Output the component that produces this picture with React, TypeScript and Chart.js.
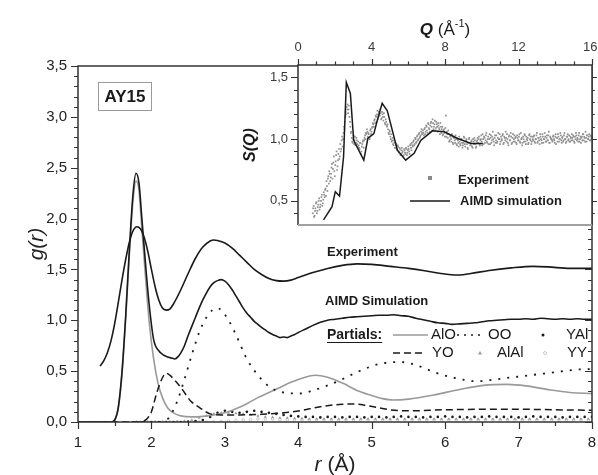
import React, { useEffect, useRef } from 'react';
import { Chart, registerables } from 'chart.js';

Chart.register(...registerables);

const FONT = "'Liberation Sans', Arial, Helvetica, sans-serif";
const INK = '#1a1a1a';
const AXIS = '#333333';

// ---------------- main panel g(r) ----------------
const xTickValues = [1, 2, 3, 4, 5, 6, 7, 8];
const xTickLabels = ['1', '2', '3', '4', '5', '6', '7', '8'];
const yTickValues = [0, 0.5, 1, 1.5, 2, 2.5, 3, 3.5];
const yTickLabels = ['0,0', '0,5', '1,0', '1,5', '2,0', '2,5', '3,0', '3,5'];

// [r, g(r)]
const gExperiment: [number, number][] = [
  [1.30, 0.55], [1.35, 0.60], [1.40, 0.68], [1.45, 0.80], [1.50, 0.97], [1.55, 1.18], [1.60, 1.40],
  [1.65, 1.60], [1.70, 1.77], [1.75, 1.88], [1.80, 1.92], [1.85, 1.90], [1.90, 1.82], [1.95, 1.68],
  [2.00, 1.50], [2.05, 1.33], [2.10, 1.20], [2.15, 1.12], [2.20, 1.10], [2.25, 1.11], [2.30, 1.16],
  [2.40, 1.30], [2.50, 1.46], [2.60, 1.61], [2.70, 1.72], [2.80, 1.78], [2.85, 1.79], [2.90, 1.785],
  [3.00, 1.76], [3.10, 1.71], [3.20, 1.64], [3.30, 1.57], [3.40, 1.50], [3.50, 1.45], [3.60, 1.41],
  [3.70, 1.39], [3.80, 1.385], [3.90, 1.395], [4.00, 1.42], [4.20, 1.47], [4.40, 1.51], [4.60, 1.54],
  [4.80, 1.555], [5.00, 1.55], [5.25, 1.53], [5.50, 1.51], [5.70, 1.49], [5.90, 1.465], [6.05, 1.45],
  [6.20, 1.445], [6.35, 1.46], [6.60, 1.49], [6.90, 1.515], [7.20, 1.53], [7.40, 1.525], [7.70, 1.51],
  [8.00, 1.51],
];

const gAIMD: [number, number][] = [
  [1.00, 0], [1.45, 0], [1.50, 0.02], [1.55, 0.15], [1.60, 0.50], [1.65, 1.05], [1.70, 1.70], [1.75, 2.25],
  [1.79, 2.445], [1.83, 2.35], [1.87, 2.00], [1.92, 1.55], [1.97, 1.15], [2.03, 0.81], [2.10, 0.70],
  [2.16, 0.66], [2.22, 0.64], [2.27, 0.63], [2.32, 0.62], [2.36, 0.64], [2.40, 0.68], [2.45, 0.75],
  [2.50, 0.85], [2.55, 0.94], [2.60, 1.03], [2.65, 1.12], [2.70, 1.20], [2.75, 1.27], [2.80, 1.33],
  [2.85, 1.37], [2.90, 1.39], [2.95, 1.40], [3.00, 1.385], [3.05, 1.35], [3.10, 1.30], [3.15, 1.24],
  [3.20, 1.18], [3.25, 1.12], [3.30, 1.07], [3.35, 1.03], [3.40, 0.99], [3.45, 0.96], [3.50, 0.93],
  [3.55, 0.905], [3.60, 0.88], [3.65, 0.86], [3.70, 0.845], [3.75, 0.83], [3.80, 0.835], [3.85, 0.83],
  [3.90, 0.845], [3.95, 0.86], [4.00, 0.88], [4.10, 0.915], [4.20, 0.95], [4.30, 0.98], [4.40, 1.00],
  [4.50, 1.01], [4.60, 1.02], [4.70, 1.03], [4.80, 1.035], [4.90, 1.04], [5.00, 1.045], [5.10, 1.05],
  [5.20, 1.05], [5.30, 1.055], [5.40, 1.045], [5.50, 1.04], [5.60, 1.02], [5.70, 1.005], [5.80, 0.99],
  [5.90, 0.975], [6.00, 0.97], [6.10, 0.96], [6.20, 0.965], [6.30, 0.97], [6.40, 0.975], [6.50, 0.985],
  [6.60, 0.995], [6.70, 1.00], [6.80, 1.005], [6.90, 1.01], [7.00, 1.01], [7.10, 1.015], [7.20, 1.01],
  [7.30, 1.02], [7.40, 1.015], [7.50, 1.01], [7.60, 1.015], [7.70, 1.01], [7.80, 1.015], [7.90, 1.01],
  [8.00, 1.01],
];

const gAlO: [number, number][] = [
  [1.00, 0], [1.45, 0], [1.50, 0.02], [1.55, 0.14], [1.60, 0.48], [1.65, 1.02], [1.70, 1.65], [1.75, 2.18],
  [1.79, 2.37], [1.83, 2.28], [1.87, 1.90], [1.92, 1.42], [1.97, 0.98], [2.03, 0.62], [2.09, 0.38],
  [2.15, 0.24], [2.22, 0.14], [2.30, 0.09], [2.40, 0.06], [2.55, 0.05], [2.70, 0.055], [2.85, 0.07],
  [3.00, 0.09], [3.15, 0.13], [3.30, 0.18], [3.45, 0.24], [3.60, 0.29], [3.75, 0.34], [3.90, 0.39],
  [4.05, 0.43], [4.23, 0.46], [4.40, 0.44], [4.61, 0.38], [4.80, 0.31], [4.98, 0.265], [5.15, 0.23],
  [5.29, 0.216], [5.50, 0.225], [5.84, 0.265], [6.20, 0.32], [6.52, 0.36], [6.85, 0.37], [7.10, 0.355],
  [7.43, 0.315], [7.70, 0.29], [8.00, 0.28],
];

const gOO: [number, number][] = [
  [1.00, 0], [2.10, 0], [2.20, 0.02], [2.25, 0.05], [2.30, 0.12], [2.36, 0.22], [2.45, 0.42], [2.55, 0.66],
  [2.65, 0.88], [2.75, 1.03], [2.83, 1.10], [2.89, 1.12], [2.95, 1.10], [3.05, 1.00], [3.15, 0.86],
  [3.30, 0.62], [3.45, 0.46], [3.62, 0.34], [3.80, 0.29], [4.02, 0.28], [4.20, 0.31], [4.40, 0.36],
  [4.57, 0.41], [4.80, 0.49], [5.10, 0.57], [5.39, 0.59], [5.60, 0.56], [5.89, 0.48], [6.15, 0.43],
  [6.43, 0.40], [6.70, 0.42], [6.98, 0.445], [7.40, 0.48], [7.93, 0.52], [8.00, 0.52],
];

const gYO: [number, number][] = [
  [1.00, 0], [1.85, 0], [1.90, 0.01], [1.95, 0.04], [2.00, 0.10], [2.07, 0.28], [2.14, 0.42], [2.20, 0.48],
  [2.25, 0.46], [2.33, 0.40], [2.41, 0.33], [2.53, 0.21], [2.66, 0.14], [2.80, 0.08], [2.95, 0.07],
  [3.20, 0.07], [3.50, 0.075], [3.80, 0.09], [4.02, 0.11], [4.30, 0.15], [4.60, 0.175], [4.75, 0.178],
  [4.95, 0.16], [5.25, 0.12], [5.50, 0.11], [6.00, 0.12], [6.50, 0.125], [7.00, 0.125], [7.50, 0.12],
  [8.00, 0.115],
];

// point partials on a regular r grid
const yalStart = 1.8, yalStep = 0.1;
const gYAl = [
  0, 0, 0, 0, 0, 0, 0, 0.005, 0.01, 0.02,
  0.05, 0.09, 0.11, 0.10, 0.09, 0.10, 0.11, 0.10, 0.09, 0.08,
  0.07, 0.06, 0.055, 0.05, 0.05, 0.045, 0.05, 0.05, 0.045, 0.05,
  0.05, 0.045, 0.05, 0.05, 0.045, 0.05, 0.055, 0.05, 0.05, 0.045,
  0.05, 0.05, 0.055, 0.05, 0.05, 0.045, 0.05, 0.05, 0.055, 0.05,
  0.05, 0.05, 0.045, 0.05, 0.055, 0.05, 0.05, 0.05, 0.045, 0.05,
  0.05, 0.05, 0.05,
];
const alalStart = 1.85, alalStep = 0.1;
const gAlAl = [
  0, 0, 0, 0, 0, 0.005, 0.01, 0.02, 0.04, 0.06,
  0.08, 0.09, 0.09, 0.085, 0.08, 0.07, 0.06, 0.05, 0.045, 0.04,
  0.04, 0.035, 0.035, 0.03, 0.03, 0.03, 0.03, 0.03, 0.03, 0.03,
  0.03, 0.03, 0.03, 0.03, 0.03, 0.03, 0.03, 0.03, 0.03, 0.03,
  0.03, 0.03, 0.03, 0.03, 0.03, 0.03, 0.03, 0.03, 0.03, 0.03,
  0.03, 0.03, 0.03, 0.03, 0.03, 0.03, 0.03, 0.03, 0.03, 0.03,
  0.03, 0.03,
];
const yyStart = 1.95, yyStep = 0.1;
const gYY = [
  0, 0, 0, 0, 0, 0, 0, 0, 0, 0,
  0.005, 0.01, 0.015, 0.02, 0.025, 0.03, 0.03, 0.03, 0.025, 0.02,
  0.02, 0.02, 0.02, 0.02, 0.02, 0.02, 0.02, 0.02, 0.02, 0.02,
  0.02, 0.02, 0.02, 0.02, 0.02, 0.02, 0.02, 0.02, 0.02, 0.02,
  0.02, 0.02, 0.02, 0.02, 0.02, 0.02, 0.02, 0.02, 0.02, 0.02,
  0.02, 0.02, 0.02, 0.02, 0.02, 0.02, 0.02, 0.02, 0.02, 0.02,
  0.02,
];

// ---------------- inset S(Q) ----------------
const qTickValues = [0, 4, 8, 12, 16];
const qTickLabels = ['0', '4', '8', '12', '16'];
const sTickValues = [0.5, 1.0, 1.5];
const sTickLabels = ['0,5', '1,0', '1,5'];

// experimental S(Q), two interleaved sweeps of the measured points
const sqExpStartA = 0.8, sqExpStepA = 0.05;
const sqExperimentA = [
  0.40, 0.46, 0.38, 0.44, 0.49, 0.42, 0.47, 0.52, 0.45, 0.50, 0.55, 0.48, 0.57, 0.53, 0.60, 0.66, 0.58, 0.70, 0.74, 0.66,
  0.72, 0.80, 0.76, 0.86, 0.70, 0.82, 0.90, 0.78, 0.88, 0.84, 0.96, 0.92, 1.02, 1.00, 1.10, 1.14, 1.22, 1.26, 1.28, 1.24,
  1.18, 1.10, 1.06, 0.98, 1.00, 0.96, 1.02, 0.97, 0.99, 0.94, 0.95, 0.92, 0.97, 0.90, 0.96, 0.99, 0.99, 1.03, 1.05, 1.08,
  1.02, 1.04, 1.00, 1.08, 1.06, 1.10, 1.12, 1.15, 1.13, 1.18, 1.20, 1.16, 1.22, 1.19, 1.21, 1.17, 1.20, 1.15, 1.18, 1.12,
  1.14, 1.10, 1.08, 1.04, 1.06, 1.00, 0.98, 1.01, 0.95, 0.97, 0.93, 0.96, 0.91, 0.94, 0.89, 0.92, 0.88, 0.93, 0.90, 0.87,
  0.91, 0.88, 0.92, 0.89, 0.94, 0.90, 0.95, 0.93, 0.97, 0.94, 0.99, 0.96, 1.00, 0.98, 1.03, 1.00, 1.05, 1.02, 1.06, 1.04,
  1.07, 1.03, 1.09, 1.06, 1.10, 1.05, 1.12, 1.08, 1.11, 1.14, 1.07, 1.13, 1.10, 1.15, 1.09, 1.12, 1.06, 1.11, 1.08, 1.13,
  1.05, 1.10, 1.04, 1.08, 1.02, 1.19, 1.06, 1.01, 1.04, 0.99, 1.03, 0.98, 1.02, 0.96, 1.01, 0.97, 1.00, 0.95, 0.99, 0.94,
  0.98, 0.95, 1.00, 0.93, 0.97, 1.01, 0.94, 0.99, 0.96, 0.92, 1.00, 0.97, 0.95, 0.99, 0.93, 0.98, 1.01, 0.96, 0.94, 0.99,
  0.97, 1.02, 0.95, 1.00, 0.98, 1.04, 0.96, 1.01, 0.99, 1.05, 0.97, 1.02, 1.00, 0.96, 1.03, 0.99, 1.06, 0.98, 1.01, 0.97,
  1.03, 0.98, 1.05, 1.00, 0.96, 1.02, 0.99, 1.04, 0.97, 1.01, 1.06, 0.98, 1.00, 0.95, 1.03, 0.99, 1.02, 0.97, 1.04, 1.00,
  0.98, 1.02, 0.96, 1.01, 0.99, 1.04, 0.97, 1.00, 0.95, 1.02, 0.98, 1.03, 0.96, 1.00, 1.01, 0.97, 1.04, 0.99, 0.96, 1.02,
  0.99, 1.03, 0.97, 1.00, 1.05, 0.98, 1.01, 0.96, 1.02, 0.99, 1.04, 0.97, 1.00, 1.02, 0.98, 1.03, 0.99, 1.06, 0.97, 1.01,
  1.00, 0.98, 1.03, 0.99, 1.02, 0.96, 1.01, 1.04, 0.98, 1.00, 1.03, 0.97, 1.02, 0.99, 1.05, 1.00, 0.98, 1.02, 0.99, 1.03,
  0.98, 1.01, 1.04, 0.99, 1.02, 0.97, 1.00, 1.03, 1.01, 0.98, 1.05, 1.00, 0.97, 1.02, 1.04, 0.99, 1.01, 1.06, 0.98, 1.03,
  1.00, 1.04, 0.99, 1.02, 1.01,
];
const sqExpStartB = 0.825, sqExpStepB = 0.05;
const sqExperimentB = [
  0.44, 0.37, 0.42, 0.48, 0.40, 0.45, 0.50, 0.43, 0.47, 0.53, 0.46, 0.51, 0.55, 0.59, 0.54, 0.62, 0.68, 0.64, 0.72, 0.69,
  0.77, 0.68, 0.81, 0.74, 0.79, 0.87, 0.75, 0.83, 0.92, 0.86, 0.90, 0.99, 0.94, 1.05, 1.08, 1.18, 1.20, 1.24, 1.21, 1.27,
  1.14, 1.05, 1.01, 0.97, 1.03, 0.99, 0.95, 1.01, 0.96, 0.98, 0.93, 0.97, 0.88, 0.94, 0.98, 0.93, 1.01, 1.00, 1.04, 1.06,
  1.05, 1.01, 1.07, 1.04, 1.09, 1.13, 1.10, 1.16, 1.19, 1.14, 1.23, 1.18, 1.20, 1.24, 1.16, 1.22, 1.18, 1.21, 1.13, 1.16,
  1.11, 1.12, 1.05, 1.07, 1.02, 1.04, 0.99, 0.96, 0.99, 0.93, 0.95, 0.92, 0.95, 0.90, 0.93, 0.87, 0.91, 0.89, 0.86, 0.92,
  0.89, 0.93, 0.87, 0.91, 0.92, 0.88, 0.96, 0.91, 0.95, 0.98, 0.95, 1.01, 0.97, 1.02, 0.99, 1.04, 1.01, 1.03, 1.08, 1.05,
  1.05, 1.08, 1.04, 1.11, 1.07, 1.13, 1.09, 1.06, 1.13, 1.10, 1.16, 1.08, 1.12, 1.07, 1.14, 1.10, 1.13, 1.09, 1.04, 1.10,
  1.08, 1.03, 1.07, 1.05, 1.09, 1.02, 1.04, 1.07, 0.98, 1.02, 1.00, 1.04, 0.97, 1.01, 0.99, 1.03, 0.96, 1.00, 0.97, 1.02,
  0.96, 1.00, 0.97, 0.95, 1.02, 0.96, 0.98, 1.00, 0.93, 0.97, 1.01, 0.95, 0.98, 0.94, 1.00, 0.96, 0.99, 0.93, 0.98, 1.01,
  1.00, 0.96, 0.99, 1.03, 0.95, 1.00, 1.02, 0.97, 1.03, 0.98, 1.00, 0.96, 1.04, 1.01, 0.97, 1.02, 1.00, 0.95, 1.03, 0.99,
  0.97, 1.01, 1.00, 1.04, 0.98, 1.00, 1.03, 0.96, 1.02, 0.99, 1.01, 1.04, 0.97, 1.02, 0.99, 1.05, 0.96, 1.01, 0.98, 1.03,
  1.01, 0.97, 1.03, 0.99, 1.02, 0.98, 1.05, 1.01, 0.97, 1.00, 1.04, 0.98, 1.02, 0.99, 0.96, 1.03, 1.00, 1.02, 0.98, 1.00,
  1.02, 0.98, 1.00, 1.03, 0.97, 1.01, 0.99, 1.04, 1.00, 0.97, 1.02, 1.00, 1.05, 0.98, 1.01, 0.99, 1.03, 0.97, 1.02, 1.00,
  0.99, 1.02, 1.00, 0.97, 1.04, 1.01, 0.98, 1.02, 1.00, 1.05, 0.99, 1.01, 0.98, 1.03, 1.00, 0.97, 1.02, 1.04, 1.00, 0.98,
  1.02, 0.99, 1.01, 1.03, 0.98, 1.02, 1.05, 0.99, 1.00, 1.03, 0.98, 1.02, 1.01, 0.99, 1.04, 1.02, 0.98, 1.01, 1.03, 1.00,
  1.02, 0.99, 1.03, 1.00,
];

const sqAIMD: [number, number][] = [
  [1.39, 0.347], [1.85, 0.454], [2.03, 0.575], [2.26, 0.54], [2.48, 0.857], [2.63, 1.46], [2.85, 1.37],
  [3.03, 0.99], [3.58, 0.83], [3.80, 1.005], [4.13, 1.045], [4.31, 1.15], [4.58, 1.29], [4.86, 1.23],
  [5.41, 0.91], [5.86, 0.83], [6.32, 0.885], [6.68, 0.99], [7.32, 1.067], [7.96, 1.06], [8.69, 1.005],
  [9.42, 0.965], [10.06, 0.965],
];

// ---------------- layout ----------------
const W = 598, H = 475;
const INSET_LEFT = 240, INSET_W = 358, INSET_H = 230;

const pairs = (a: [number, number][]) => a.map(([x, y]) => ({ x, y }));
const grid = (start: number, step: number, vals: number[]) =>
  vals.map((y, i) => ({ x: +(start + i * step).toFixed(3), y }));

function drawParts(ctx: CanvasRenderingContext2D, parts: { t: string; f: string; dy?: number }[], cx: number, y: number) {
  let total = 0;
  parts.forEach(p => { ctx.font = p.f; total += ctx.measureText(p.t).width; });
  let x = cx - total / 2;
  ctx.textAlign = 'left';
  ctx.textBaseline = 'alphabetic';
  parts.forEach(p => {
    ctx.font = p.f;
    ctx.fillText(p.t, x, y + (p.dy || 0));
    x += ctx.measureText(p.t).width;
  });
}

const mainDecor = {
  id: 'mainDecor',
  afterDatasetsDraw(chart: any) {
    const { ctx, chartArea: ca, scales } = chart;
    const xs = scales.x, ys = scales.y;
    ctx.save();
    ctx.strokeStyle = AXIS;
    ctx.lineWidth = 1.5;
    ctx.strokeRect(ca.left, ca.top, ca.right - ca.left, ca.bottom - ca.top);
    ctx.lineWidth = 1.2;
    ctx.beginPath();
    for (let k = 0; k <= 14; k++) {
      const px = Math.round(xs.getPixelForValue(1 + k * 0.5)) + 0.5;
      const len = k % 2 === 0 ? 7 : 4;
      ctx.moveTo(px, ca.bottom);
      ctx.lineTo(px, ca.bottom + len);
    }
    for (let k = 0; k <= 35; k++) {
      const py = Math.round(ys.getPixelForValue(k * 0.1)) + 0.5;
      const len = k % 5 === 0 ? 7 : 4;
      ctx.moveTo(ca.left, py);
      ctx.lineTo(ca.left - len, py);
      ctx.moveTo(ca.right, py);
      ctx.lineTo(ca.right - len, py);
    }
    ctx.stroke();
    ctx.fillStyle = '#222';
    ctx.font = `15px ${FONT}`;
    ctx.textAlign = 'center';
    ctx.textBaseline = 'middle';
    xTickValues.forEach((v, i) => ctx.fillText(xTickLabels[i], xs.getPixelForValue(v), ca.bottom + 21));
    ctx.textAlign = 'right';
    yTickValues.forEach((v, i) => ctx.fillText(yTickLabels[i], ca.left - 11, ys.getPixelForValue(v)));
    ctx.save();
    ctx.translate(37, (ca.top + ca.bottom) / 2);
    ctx.rotate(-Math.PI / 2);
    ctx.font = `italic 21px ${FONT}`;
    ctx.textAlign = 'center';
    ctx.textBaseline = 'middle';
    ctx.fillText('g(r)', 0, 0);
    ctx.restore();
    drawParts(ctx, [
      { t: 'r', f: `italic 21px ${FONT}` },
      { t: ' (Å)', f: `21px ${FONT}` },
    ], (ca.left + ca.right) / 2, 471);

    ctx.strokeStyle = '#9a9a9a';
    ctx.lineWidth = 1;
    ctx.strokeRect(98.5, 82.5, 53, 28);
    ctx.fillStyle = INK;
    ctx.font = `bold 17px ${FONT}`;
    ctx.textAlign = 'center';
    ctx.textBaseline = 'middle';
    ctx.fillText('AY15', 125, 97);

    ctx.font = `bold 13px ${FONT}`;
    ctx.textAlign = 'left';
    ctx.fillText('Experiment', 327, 252);
    ctx.fillText('AIMD Simulation', 325, 301);

    const r1 = 335, r2 = 353;
    ctx.font = `bold 14px ${FONT}`;
    ctx.fillText('Partials:', 327, r1);
    const pw = ctx.measureText('Partials:').width;
    ctx.strokeStyle = INK;
    ctx.lineWidth = 1.2;
    ctx.beginPath();
    ctx.moveTo(327, r1 + 7.5);
    ctx.lineTo(327 + pw, r1 + 7.5);
    ctx.stroke();

    ctx.font = `15px ${FONT}`;
    ctx.fillText('AlO', 431, r1);
    ctx.fillText('OO', 488, r1);
    ctx.fillText('YAl', 566, r1);
    ctx.fillText('YO', 432, r2);
    ctx.fillText('AlAl', 497, r2);
    ctx.fillText('YY', 567, r2);

    ctx.strokeStyle = '#9a9a9a';
    ctx.lineWidth = 1.5;
    ctx.beginPath(); ctx.moveTo(393, r1); ctx.lineTo(428, r1); ctx.stroke();
    ctx.strokeStyle = INK;
    ctx.setLineDash([2, 5]);
    ctx.beginPath(); ctx.moveTo(457, r1); ctx.lineTo(485, r1); ctx.stroke();
    ctx.setLineDash([7, 4]);
    ctx.beginPath(); ctx.moveTo(393, r2); ctx.lineTo(425, r2); ctx.stroke();
    ctx.setLineDash([]);
    ctx.fillStyle = INK;
    ctx.beginPath(); ctx.arc(543, r1, 1.5, 0, Math.PI * 2); ctx.fill();
    ctx.fillStyle = '#999';
    ctx.beginPath(); ctx.moveTo(480, r2 - 2); ctx.lineTo(482, r2 + 1.5); ctx.lineTo(478, r2 + 1.5); ctx.closePath(); ctx.fill();
    ctx.strokeStyle = '#bbb';
    ctx.lineWidth = 0.8;
    ctx.beginPath(); ctx.arc(545, r2, 1.5, 0, Math.PI * 2); ctx.stroke();
    ctx.restore();
  },
};

const insetDecor = {
  id: 'insetDecor',
  beforeDatasetsDraw(chart: any) {
    const { ctx, chartArea: ca } = chart;
    ctx.save();
    ctx.fillStyle = '#ffffff';
    ctx.fillRect(ca.left, ca.top, ca.right - ca.left, ca.bottom - ca.top);
    ctx.restore();
  },
  afterDatasetsDraw(chart: any) {
    const { ctx, chartArea: ca, scales, width } = chart;
    const xs = scales.x, ys = scales.y;
    ctx.save();
    ctx.strokeStyle = AXIS;
    ctx.lineWidth = 1.5;
    ctx.beginPath();
    ctx.moveTo(ca.left, ca.bottom);
    ctx.lineTo(ca.left, ca.top);
    ctx.lineTo(ca.right, ca.top);
    ctx.lineTo(ca.right, ca.bottom);
    ctx.stroke();
    ctx.strokeStyle = '#a0a0a0';
    ctx.lineWidth = 2;
    ctx.beginPath();
    ctx.moveTo(ca.left, ca.bottom);
    ctx.lineTo(ca.right, ca.bottom);
    ctx.stroke();
    ctx.strokeStyle = AXIS;
    ctx.lineWidth = 1.2;
    ctx.beginPath();
    for (let k = 0; k <= 16; k++) {
      const px = Math.round(xs.getPixelForValue(k)) + 0.5;
      const len = k % 4 === 0 ? 6 : 3.5;
      ctx.moveTo(px, ca.top);
      ctx.lineTo(px, ca.top - len);
    }
    for (let k = 4; k <= 15; k++) {
      const py = Math.round(ys.getPixelForValue(k * 0.1)) + 0.5;
      const len = k % 5 === 0 ? 7 : 4;
      ctx.moveTo(ca.left, py);
      ctx.lineTo(ca.left - len, py);
      ctx.moveTo(ca.right, py);
      ctx.lineTo(ca.right + len * 0.7, py);
    }
    ctx.stroke();
    ctx.fillStyle = '#3a3a3a';
    ctx.font = `13px ${FONT}`;
    ctx.textAlign = 'center';
    ctx.textBaseline = 'middle';
    qTickValues.forEach((v, i) => {
      const w = ctx.measureText(qTickLabels[i]).width;
      const cx = Math.min(xs.getPixelForValue(v), width - w / 2 - 0.5);
      ctx.fillText(qTickLabels[i], cx, ca.top - 18);
    });
    ctx.textAlign = 'right';
    sTickValues.forEach((v, i) => ctx.fillText(sTickLabels[i], ca.left - 10, ys.getPixelForValue(v)));
    ctx.fillStyle = INK;
    ctx.save();
    ctx.translate(251 - INSET_LEFT, (ca.top + ca.bottom) / 2);
    ctx.rotate(-Math.PI / 2);
    ctx.font = `italic bold 16px ${FONT}`;
    ctx.textAlign = 'center';
    ctx.textBaseline = 'middle';
    ctx.fillText('S(Q)', 0, 0);
    ctx.restore();
    drawParts(ctx, [
      { t: 'Q', f: `italic bold 17px ${FONT}` },
      { t: ' (Å', f: `17px ${FONT}` },
      { t: '-1', f: `11px ${FONT}`, dy: -8 },
      { t: ')', f: `17px ${FONT}` },
    ], (ca.left + ca.right) / 2, 35);
    ctx.fillStyle = '#8a8a8a';
    ctx.fillRect(430 - INSET_LEFT - 2, 178 - 2, 4, 4);
    ctx.strokeStyle = INK;
    ctx.lineWidth = 1.5;
    ctx.beginPath();
    ctx.moveTo(410 - INSET_LEFT, 201);
    ctx.lineTo(450 - INSET_LEFT, 201);
    ctx.stroke();
    ctx.fillStyle = INK;
    ctx.font = `bold 13px ${FONT}`;
    ctx.textAlign = 'left';
    ctx.textBaseline = 'middle';
    ctx.fillText('Experiment', 458 - INSET_LEFT, 180);
    ctx.fillText('AIMD simulation', 460 - INSET_LEFT, 201);
    ctx.restore();
  },
};

export default function App() {
  const mainRef = useRef<HTMLCanvasElement>(null);
  const insetRef = useRef<HTMLCanvasElement>(null);

  useEffect(() => {
    const lineDs = (label: string, data: any[], color: string, width: number, dash: number[] = []) => ({
      label,
      data,
      borderColor: color,
      backgroundColor: color,
      borderWidth: width,
      borderDash: dash,
      pointRadius: 0,
      cubicInterpolationMode: 'monotone' as const,
      fill: false,
    });
    const pointDs = (label: string, data: any[], style: string, r: number, fillC: string, borderC: string, bw: number) => ({
      label,
      data,
      showLine: false,
      pointStyle: style,
      pointRadius: r,
      backgroundColor: fillC,
      borderColor: borderC,
      pointBorderWidth: bw,
      borderWidth: bw,
    });
    const expDot = (label: string, data: any[]) => ({
      label,
      data,
      showLine: false,
      pointStyle: 'rect',
      pointRadius: 1.2,
      backgroundColor: '#8f8f8f',
      borderColor: '#8f8f8f',
      borderWidth: 0,
      pointBorderWidth: 0,
    });

    const main = new Chart(mainRef.current as HTMLCanvasElement, {
      type: 'line',
      data: {
        datasets: [
          lineDs('AIMD', pairs(gAIMD), INK, 1.6),
          lineDs('Experiment', pairs(gExperiment), INK, 1.6),
          lineDs('YO', pairs(gYO), INK, 1.5, [7, 4]),
          lineDs('OO', pairs(gOO), INK, 1.8, [2, 7]),
          lineDs('AlO', pairs(gAlO), '#9a9a9a', 1.6),
          pointDs('YAl', grid(yalStart, yalStep, gYAl), 'circle', 1.3, INK, INK, 0),
          pointDs('AlAl', grid(alalStart, alalStep, gAlAl), 'triangle', 1.8, '#999', '#999', 0),
          pointDs('YY', grid(yyStart, yyStep, gYY), 'circle', 1.3, '#fff', '#bbb', 0.8),
        ] as any,
      },
      options: {
        animation: false,
        responsive: false,
        maintainAspectRatio: false,
        layout: { padding: { left: 78, right: 6, top: 66, bottom: 53 } },
        plugins: { legend: { display: false }, tooltip: { enabled: false } },
        scales: {
          x: { type: 'linear', min: 1, max: 8, display: false },
          y: { type: 'linear', min: 0, max: 3.5, display: false },
        },
      },
      plugins: [mainDecor],
    } as any);

    const inset = new Chart(insetRef.current as HTMLCanvasElement, {
      type: 'line',
      data: {
        datasets: [
          {
            label: 'AIMD simulation',
            data: pairs(sqAIMD),
            borderColor: INK,
            borderWidth: 1.5,
            pointRadius: 0,
            tension: 0,
            fill: false,
          },
          expDot('Experiment A', grid(sqExpStartA, sqExpStepA, sqExperimentA)),
          expDot('Experiment B', grid(sqExpStartB, sqExpStepB, sqExperimentB)),
        ] as any,
      },
      options: {
        animation: false,
        responsive: false,
        maintainAspectRatio: false,
        layout: { padding: { left: 58, right: 6, top: 65, bottom: INSET_H - 225 } },
        plugins: { legend: { display: false }, tooltip: { enabled: false } },
        scales: {
          x: { type: 'linear', min: 0, max: 16, display: false },
          y: { type: 'linear', min: 0.305, max: 1.6, display: false },
        },
      },
      plugins: [insetDecor],
    } as any);

    return () => {
      main.destroy();
      inset.destroy();
    };
  }, []);

  return (
    <div style={{ position: 'absolute', left: 0, top: 0, width: W, height: H, background: '#fff' }}>
      <canvas ref={mainRef} width={W} height={H} style={{ position: 'absolute', left: 0, top: 0 }} />
      <canvas
        ref={insetRef}
        width={INSET_W}
        height={INSET_H}
        style={{ position: 'absolute', left: INSET_LEFT, top: 0 }}
      />
    </div>
  );
}
